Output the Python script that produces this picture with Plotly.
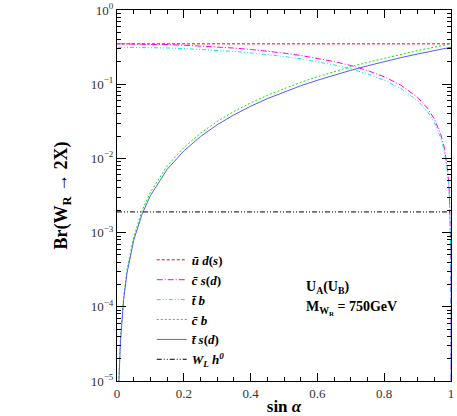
"""
Br(W_R -> 2X) vs sin(alpha), U_A(U_B), M_WR = 750 GeV
values read off the reference figure
"""
import plotly.graph_objects as go

# sin(alpha) grid, dense at both ends where curves change fast
S = [0.003, 0.005, 0.01, 0.02, 0.03, 0.05, 0.075, 0.1, 0.15, 0.2, 0.25, 0.3,
     0.35, 0.4, 0.45, 0.5, 0.55, 0.6, 0.65, 0.7, 0.75, 0.8, 0.85, 0.9, 0.93,
     0.95, 0.97, 0.98, 0.99, 0.995, 0.998, 0.999, 0.9999, 0.99999]

BR_UD = [0.35, 0.35]          # flat, at sin=0 and sin=1
BR_CS = [0.35, 0.35, 0.35, 0.3499, 0.3497, 0.349, 0.348, 0.3465, 0.342, 0.336,
         0.328, 0.3185, 0.307, 0.294, 0.279, 0.2625, 0.244, 0.224, 0.202,
         0.1785, 0.153, 0.126, 0.0971, 0.0665, 0.0473, 0.0341, 0.0207, 0.0139,
         0.00697, 0.00349, 0.0014, 0.0007, 7e-5, 7e-6]
BR_TB = [0.315, 0.315, 0.315, 0.3149, 0.3147, 0.3142, 0.3132, 0.3119, 0.3079,
         0.3024, 0.2953, 0.2867, 0.2764, 0.2646, 0.2512, 0.2363, 0.2197, 0.2016,
         0.1819, 0.1607, 0.1378, 0.1134, 0.0874, 0.0599, 0.0426, 0.0307, 0.0186,
         0.0125, 0.00627, 0.00314, 0.00126, 0.00063, 6.3e-5, 6.3e-6]
BR_CB = [3.15e-6, 8.75e-6, 3.5e-5, 1.4e-4, 3.15e-4, 8.75e-4, 1.97e-3, 3.5e-3,
         7.9e-3, 0.014, 0.0219, 0.0315, 0.0429, 0.056, 0.0709, 0.0875, 0.106,
         0.126, 0.148, 0.172, 0.197, 0.224, 0.253, 0.284, 0.303, 0.316, 0.329,
         0.336, 0.343, 0.347, 0.349, 0.35, 0.35, 0.35]
BR_TS = [2.8e-6, 7.9e-6, 3.15e-5, 1.26e-4, 2.84e-4, 7.9e-4, 1.77e-3, 3.15e-3,
         7.1e-3, 0.0126, 0.0197, 0.0284, 0.0386, 0.0504, 0.0638, 0.0788, 0.0953,
         0.113, 0.133, 0.154, 0.177, 0.202, 0.228, 0.255, 0.272, 0.284, 0.296,
         0.302, 0.309, 0.312, 0.314, 0.315, 0.315, 0.315]
BR_WH = [0.0019, 0.0019]
S_FLAT = [0, 1]

X_TICKS = [0, 0.2, 0.4, 0.6, 0.8, 1]
X_LABELS = ['0', '0.2', '0.4', '0.6', '0.8', '1']
Y_TICKS = [1e-5, 1e-4, 1e-3, 1e-2, 1e-1, 1]
Y_LABELS = ['10<sup>−5</sup>', '10<sup>−4</sup>', '10<sup>−3</sup>',
            '10<sup>−2</sup>', '10<sup>−1</sup>', '10<sup>0</sup>']

FONT = 'Liberation Serif'

series = [
    (S_FLAT, BR_UD, '<b><i>ū d</i>(<i>s</i>)</b>', '#ff0000', '3px,2px'),
    (S, BR_CS, '<b><i>c̄ s</i>(<i>d</i>)</b>', '#ff00ff', '6px,2px,1px,2px'),
    (S, BR_TB, '<b><i>t̄ b</i></b>', '#00e8f0', '4px,2px,1px,2px,1px,2px'),
    (S, BR_CB, '<b><i>c̄ b</i></b>', '#00ee00', '2px,2px'),
    (S, BR_TS, '<b><i>t̄ s</i>(<i>d</i>)</b>', '#5a5aff', 'solid'),
    (S_FLAT, BR_WH, '<b><i>W<sub>L</sub> h<sup>0</sup></i></b>', '#000000',
     '5px,2px,1px,2px,1px,2px'),
]

fig = go.Figure()
for xs, ys, name, color, dash in series:
    fig.add_trace(go.Scatter(
        x=xs, y=ys, name=name, mode='lines',
        line=dict(color=color, width=1, dash=dash),
    ))

fig.add_annotation(x=0.56, y=0.252, xref='paper', yref='paper',
                   xanchor='left', yanchor='middle', showarrow=False,
                   text='<b>U<sub>A</sub>(U<sub>B</sub>)</b>',
                   font=dict(family=FONT, size=14, color='black'))
fig.add_annotation(x=0.56, y=0.198, xref='paper', yref='paper',
                   xanchor='left', yanchor='middle', showarrow=False,
                   text='<b>M<sub>W<sub>R</sub></sub> = 750GeV</b>',
                   font=dict(family=FONT, size=14, color='black'))

axis_common = dict(
    showline=True, linecolor='black', linewidth=1, mirror='ticks',
    ticks='inside', tickcolor='black', showgrid=False, zeroline=False,
    tickfont=dict(family=FONT, size=13, color='#333'),
)

fig.update_xaxes(
    range=[0, 1], tickmode='array', tickvals=X_TICKS, ticktext=X_LABELS,
    ticklen=8,
    minor=dict(ticks='inside', dtick=0.05, ticklen=4, tickcolor='black',
               showgrid=False),
    title=dict(text='<b>sin <i>α</i></b>', standoff=2,
               font=dict(family=FONT, size=17, color='black')),
    **axis_common,
)
minor_y = [m * 10 ** e for e in range(-5, 0) for m in range(2, 10)]
fig.update_yaxes(
    type='log', range=[-5, 0], tickmode='array', tickvals=Y_TICKS,
    ticktext=Y_LABELS, ticklen=9,
    minor=dict(ticks='inside', tickmode='array', tickvals=minor_y, ticklen=4,
               tickcolor='black', showgrid=False),
    title=dict(text='<b>Br(W<sub>R</sub> → 2X)</b>', standoff=18,
               font=dict(family=FONT, size=18, color='black')),
    **axis_common,
)

fig.update_layout(
    width=457, height=416,
    margin=dict(l=117, r=6, t=10, b=35, autoexpand=False),
    paper_bgcolor='white', plot_bgcolor='white',
    font=dict(family=FONT, color='black'),
    legend=dict(x=0.104, y=0.367, xanchor='left', yanchor='top',
                bgcolor='rgba(0,0,0,0)', borderwidth=0,
                font=dict(family=FONT, size=13, color='black'),
                tracegroupgap=0),
)

# page margin off so the 457x416 figure fills the window exactly
fig.write_html('out.html', config={'displayModeBar': False},
               post_script="document.body.style.margin='0';"
                           "document.body.style.overflow='hidden';")
